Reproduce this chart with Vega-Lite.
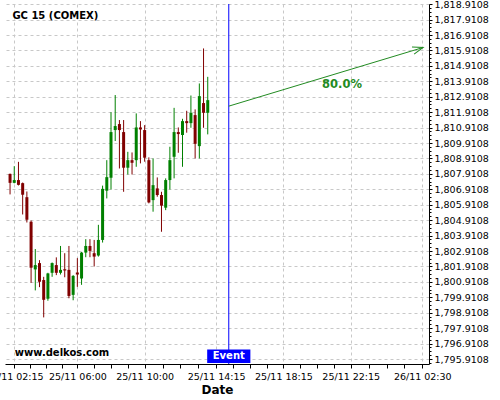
{
  "$schema": "https://vega.github.io/schema/vega-lite/v6.json",
  "width": 424,
  "height": 360,
  "autosize": {"type": "none"},
  "padding": {"left": 5, "top": 4, "right": 71, "bottom": 36},
  "background": "white",
  "config": {
    "view": {"stroke": null},
    "font": "DejaVu Sans",
    "axis": {
      "domainColor": "#000000",
      "tickColor": "#000000",
      "labelColor": "#000000",
      "labelFont": "DejaVu Sans",
      "labelFontSize": 9.5,
      "labelFlush": false,
      "labelOverlap": false,
      "gridColor": "#c8c8c8",
      "gridDash": [3, 3],
      "gridWidth": 1
    }
  },
  "datasets": {
    "candles": [
      {"t": "2020-11-25T02:00:00Z", "o": 1807.91, "h": 1807.93, "l": 1806.58, "c": 1807.33},
      {"t": "2020-11-25T02:15:00Z", "o": 1807.33, "h": 1808.41, "l": 1807.30, "c": 1807.51},
      {"t": "2020-11-25T02:30:00Z", "o": 1807.51, "h": 1808.69, "l": 1807.16, "c": 1807.20},
      {"t": "2020-11-25T02:45:00Z", "o": 1807.31, "h": 1807.35, "l": 1805.28, "c": 1806.56},
      {"t": "2020-11-25T03:00:00Z", "o": 1806.40, "h": 1806.77, "l": 1804.76, "c": 1804.94},
      {"t": "2020-11-25T03:15:00Z", "o": 1804.81, "h": 1804.89, "l": 1800.85, "c": 1801.83},
      {"t": "2020-11-25T03:30:00Z", "o": 1801.72, "h": 1803.04, "l": 1800.36, "c": 1802.00},
      {"t": "2020-11-25T03:45:00Z", "o": 1802.13, "h": 1802.32, "l": 1800.57, "c": 1800.92},
      {"t": "2020-11-25T04:00:00Z", "o": 1801.03, "h": 1801.24, "l": 1798.61, "c": 1799.75},
      {"t": "2020-11-25T04:15:00Z", "o": 1799.82, "h": 1801.50, "l": 1799.69, "c": 1801.46},
      {"t": "2020-11-25T04:30:00Z", "o": 1801.50, "h": 1802.17, "l": 1801.24, "c": 1802.13},
      {"t": "2020-11-25T04:45:00Z", "o": 1802.00, "h": 1802.50, "l": 1801.35, "c": 1801.50},
      {"t": "2020-11-25T05:00:00Z", "o": 1801.50, "h": 1803.24, "l": 1801.39, "c": 1801.69},
      {"t": "2020-11-25T05:15:00Z", "o": 1801.73, "h": 1802.77, "l": 1801.21, "c": 1801.65},
      {"t": "2020-11-25T05:30:00Z", "o": 1801.69, "h": 1803.24, "l": 1799.85, "c": 1800.00},
      {"t": "2020-11-25T05:45:00Z", "o": 1800.07, "h": 1801.35, "l": 1799.72, "c": 1801.30},
      {"t": "2020-11-25T06:00:00Z", "o": 1801.52, "h": 1802.45, "l": 1800.59, "c": 1801.39},
      {"t": "2020-11-25T06:15:00Z", "o": 1801.13, "h": 1802.85, "l": 1800.72, "c": 1802.81},
      {"t": "2020-11-25T06:30:00Z", "o": 1802.81, "h": 1803.68, "l": 1802.51, "c": 1803.24},
      {"t": "2020-11-25T06:45:00Z", "o": 1803.24, "h": 1803.68, "l": 1802.51, "c": 1802.92},
      {"t": "2020-11-25T07:00:00Z", "o": 1802.77, "h": 1803.63, "l": 1801.91, "c": 1802.55},
      {"t": "2020-11-25T07:15:00Z", "o": 1802.62, "h": 1804.61, "l": 1802.55, "c": 1803.63},
      {"t": "2020-11-25T07:30:00Z", "o": 1803.63, "h": 1807.15, "l": 1803.46, "c": 1806.94},
      {"t": "2020-11-25T07:45:00Z", "o": 1806.82, "h": 1808.80, "l": 1806.32, "c": 1807.70},
      {"t": "2020-11-25T08:00:00Z", "o": 1807.66, "h": 1811.91, "l": 1806.90, "c": 1810.62},
      {"t": "2020-11-25T08:15:00Z", "o": 1810.75, "h": 1813.02, "l": 1810.04, "c": 1811.01},
      {"t": "2020-11-25T08:30:00Z", "o": 1811.14, "h": 1811.40, "l": 1808.26, "c": 1810.75},
      {"t": "2020-11-25T08:45:00Z", "o": 1810.62, "h": 1811.40, "l": 1806.75, "c": 1808.31},
      {"t": "2020-11-25T09:00:00Z", "o": 1808.31, "h": 1809.34, "l": 1807.87, "c": 1808.80},
      {"t": "2020-11-25T09:15:00Z", "o": 1808.80, "h": 1809.30, "l": 1807.87, "c": 1808.63},
      {"t": "2020-11-25T09:30:00Z", "o": 1808.80, "h": 1811.83, "l": 1808.37, "c": 1810.92},
      {"t": "2020-11-25T09:45:00Z", "o": 1810.92, "h": 1811.33, "l": 1808.59, "c": 1810.79},
      {"t": "2020-11-25T10:00:00Z", "o": 1810.75, "h": 1811.07, "l": 1808.70, "c": 1808.96},
      {"t": "2020-11-25T10:15:00Z", "o": 1808.80, "h": 1808.98, "l": 1806.00, "c": 1806.06},
      {"t": "2020-11-25T10:30:00Z", "o": 1806.21, "h": 1808.91, "l": 1805.46, "c": 1807.18},
      {"t": "2020-11-25T10:45:00Z", "o": 1806.97, "h": 1807.68, "l": 1806.43, "c": 1806.54},
      {"t": "2020-11-25T11:00:00Z", "o": 1806.54, "h": 1806.75, "l": 1804.16, "c": 1805.85},
      {"t": "2020-11-25T11:15:00Z", "o": 1805.72, "h": 1807.62, "l": 1805.56, "c": 1807.51},
      {"t": "2020-11-25T11:30:00Z", "o": 1807.51, "h": 1809.67, "l": 1806.90, "c": 1808.80},
      {"t": "2020-11-25T11:45:00Z", "o": 1809.02, "h": 1812.19, "l": 1807.62, "c": 1810.62},
      {"t": "2020-11-25T12:00:00Z", "o": 1810.62, "h": 1810.92, "l": 1809.28, "c": 1810.49},
      {"t": "2020-11-25T12:15:00Z", "o": 1810.43, "h": 1811.48, "l": 1808.37, "c": 1811.33},
      {"t": "2020-11-25T12:30:00Z", "o": 1811.33, "h": 1812.00, "l": 1810.58, "c": 1811.20},
      {"t": "2020-11-25T12:45:00Z", "o": 1811.20, "h": 1812.99, "l": 1810.90, "c": 1811.87},
      {"t": "2020-11-25T13:00:00Z", "o": 1811.72, "h": 1812.09, "l": 1808.91, "c": 1809.86},
      {"t": "2020-11-25T13:15:00Z", "o": 1809.71, "h": 1813.77, "l": 1808.91, "c": 1812.95},
      {"t": "2020-11-25T13:30:00Z", "o": 1812.50, "h": 1816.04, "l": 1810.90, "c": 1811.87},
      {"t": "2020-11-25T13:45:00Z", "o": 1811.87, "h": 1814.20, "l": 1810.47, "c": 1812.69}
    ],
    "event": [
      {"t": "2020-11-25T15:00:00Z", "label": "Event", "p": 1796.1}
    ],
    "forecast": [
      {"t": "2020-11-25T15:00:00Z", "p": 1812.30, "t2": "2020-11-26T02:33:00Z", "p2": 1816.10, "label": "80.0%"}
    ]
  },
  "layer": [
    {
      "data": {"name": "candles"},
      "mark": {"type": "rule", "strokeWidth": 1},
      "encoding": {
        "x": {
          "field": "t",
          "type": "temporal",
          "scale": {"type": "utc", "domain": [1606268520000, 1606359240000], "nice": false, "padding": 0},
          "axis": {
            "title": "Date",
            "titleFont": "DejaVu Sans",
            "titleFontSize": 12,
            "titleFontWeight": "bold",
            "titleColor": "#000000",
            "titlePadding": 4,
            "tickSize": 4,
            "tickCount": 100,
            "labelPadding": 3,
            "labelOverlap": false,
            "labelFlush": false,
            "values": [1606270500000, 1606273875000, 1606277250000, 1606280625000, 1606284000000, 1606287600000, 1606291200000, 1606294800000, 1606298400000, 1606302225000, 1606306050000, 1606309875000, 1606313700000, 1606317300000, 1606320900000, 1606324500000, 1606328100000, 1606331700000, 1606335300000, 1606338900000, 1606342500000, 1606346325000, 1606350150000, 1606353975000, 1606357800000],
            "labelExpr": "indexof(['02:15','06:00','10:00','14:15','18:15','22:15','02:30'], utcFormat(datum.value, '%H:%M')) >= 0 ? utcFormat(datum.value, '%d/%m %H:%M') : ''",
            "gridOpacity": {
              "condition": {"test": "indexof(['02:15','06:00','10:00','14:15','18:15','22:15','02:30'], utcFormat(datum.value, '%H:%M')) >= 0", "value": 1},
              "value": 0
            }
          }
        },
        "y": {
          "field": "l",
          "type": "quantitative",
          "scale": {"domain": [1795.59, 1818.92], "zero": false, "nice": false, "padding": 0},
          "axis": {
            "orient": "right",
            "title": null,
            "format": ",.4f",
            "tickCount": 200,
            "labelPadding": 2,
            "labelOverlap": false,
            "labelFlush": false,
            "labelBaseline": "middle",
            "values": [1795.6608, 1795.9108, 1796.1608, 1796.4108, 1796.6608, 1796.9108, 1797.1608, 1797.4108, 1797.6608, 1797.9108, 1798.1608, 1798.4108, 1798.6608, 1798.9108, 1799.1608, 1799.4108, 1799.6608, 1799.9108, 1800.1608, 1800.4108, 1800.6608, 1800.9108, 1801.1608, 1801.4108, 1801.6608, 1801.9108, 1802.1608, 1802.4108, 1802.6608, 1802.9108, 1803.1608, 1803.4108, 1803.6608, 1803.9108, 1804.1608, 1804.4108, 1804.6608, 1804.9108, 1805.1608, 1805.4108, 1805.6608, 1805.9108, 1806.1608, 1806.4108, 1806.6608, 1806.9108, 1807.1608, 1807.4108, 1807.6608, 1807.9108, 1808.1608, 1808.4108, 1808.6608, 1808.9108, 1809.1608, 1809.4108, 1809.6608, 1809.9108, 1810.1608, 1810.4108, 1810.6608, 1810.9108, 1811.1608, 1811.4108, 1811.6608, 1811.9108, 1812.1608, 1812.4108, 1812.6608, 1812.9108, 1813.1608, 1813.4108, 1813.6608, 1813.9108, 1814.1608, 1814.4108, 1814.6608, 1814.9108, 1815.1608, 1815.4108, 1815.6608, 1815.9108, 1816.1608, 1816.4108, 1816.6608, 1816.9108, 1817.1608, 1817.4108, 1817.6608, 1817.9108, 1818.1608, 1818.4108, 1818.6608, 1818.9108],
            "labelExpr": "abs(datum.value - 0.9108 - round(datum.value - 0.9108)) < 0.01 ? format(datum.value, ',.4f') : ''",
            "tickSize": {
              "condition": {"test": "abs(datum.value - 0.9108 - round(datum.value - 0.9108)) < 0.01", "value": 3},
              "value": 2
            },
            "gridOpacity": {
              "condition": {"test": "abs(datum.value - 0.9108 - round(datum.value - 0.9108)) < 0.01", "value": 1},
              "value": 0
            }
          }
        },
        "y2": {"field": "h"},
        "color": {"condition": {"test": "datum.c >= datum.o", "value": "#008000"}, "value": "#800000"}
      }
    },
    {
      "data": {"name": "candles"},
      "mark": {"type": "bar", "width": 3},
      "encoding": {
        "x": {"field": "t", "type": "temporal"},
        "y": {"field": "o", "type": "quantitative"},
        "y2": {"field": "c"},
        "color": {"condition": {"test": "datum.c >= datum.o", "value": "#008000"}, "value": "#800000"}
      }
    },
    {
      "data": {"name": "event"},
      "mark": {"type": "rule", "color": "#0000ff", "strokeWidth": 1},
      "encoding": {
        "x": {"field": "t", "type": "temporal"}
      }
    },
    {
      "data": {"name": "forecast"},
      "mark": {"type": "rule", "color": "#228b22", "strokeWidth": 1},
      "encoding": {
        "x": {"field": "t", "type": "temporal"},
        "y": {"field": "p", "type": "quantitative"},
        "x2": {"field": "t2"},
        "y2": {"field": "p2"}
      }
    },
    {
      "data": {"name": "forecast"},
      "mark": {"type": "point", "shape": "M-1,-0.35L0,0L-1,0.35", "size": 441, "filled": false, "color": "#228b22", "strokeWidth": 1, "opacity": 1, "angle": 343.2},
      "encoding": {
        "x": {"field": "t2", "type": "temporal"},
        "y": {"field": "p2", "type": "quantitative"}
      }
    },
    {
      "data": {"name": "forecast"},
      "mark": {"type": "text", "font": "DejaVu Sans", "fontSize": 11.5, "fontWeight": "bold", "color": "#228b22", "align": "center", "baseline": "middle"},
      "encoding": {
        "x": {"datum": 1606340640000, "type": "temporal"},
        "y": {"datum": 1813.66, "type": "quantitative"},
        "text": {"field": "label"}
      }
    },
    {
      "data": {"name": "event"},
      "mark": {"type": "point", "shape": "M-1.6,-0.5H1.6V0.5H-1.6Z", "size": 729, "filled": true, "color": "#0000ff", "opacity": 1},
      "encoding": {
        "x": {"field": "t", "type": "temporal"},
        "y": {"field": "p", "type": "quantitative"}
      }
    },
    {
      "data": {"name": "event"},
      "mark": {"type": "text", "font": "DejaVu Sans", "fontSize": 10, "fontWeight": "bold", "color": "#ffffff", "align": "center", "baseline": "middle"},
      "encoding": {
        "x": {"field": "t", "type": "temporal"},
        "y": {"field": "p", "type": "quantitative"},
        "text": {"field": "label"}
      }
    },
    {
      "data": {"values": [{"site": "www.delkos.com", "name": "GC 15 (COMEX)"}]},
      "mark": {"type": "text", "font": "DejaVu Sans", "fontSize": 10, "fontWeight": "bold", "color": "#000000", "align": "left", "baseline": "middle"},
      "encoding": {
        "x": {"datum": 1606270620000, "type": "temporal"},
        "y": {"datum": 1796.28, "type": "quantitative"},
        "text": {"field": "site"}
      }
    },
    {
      "data": {"values": [{"name": "GC 15 (COMEX)"}]},
      "mark": {"type": "text", "font": "DejaVu Sans", "fontSize": 10, "fontWeight": "bold", "color": "#000000", "align": "left", "baseline": "middle"},
      "encoding": {
        "x": {"datum": 1606270100000, "type": "temporal"},
        "y": {"datum": 1818.16, "type": "quantitative"},
        "text": {"field": "name"}
      }
    }
  ]
}
